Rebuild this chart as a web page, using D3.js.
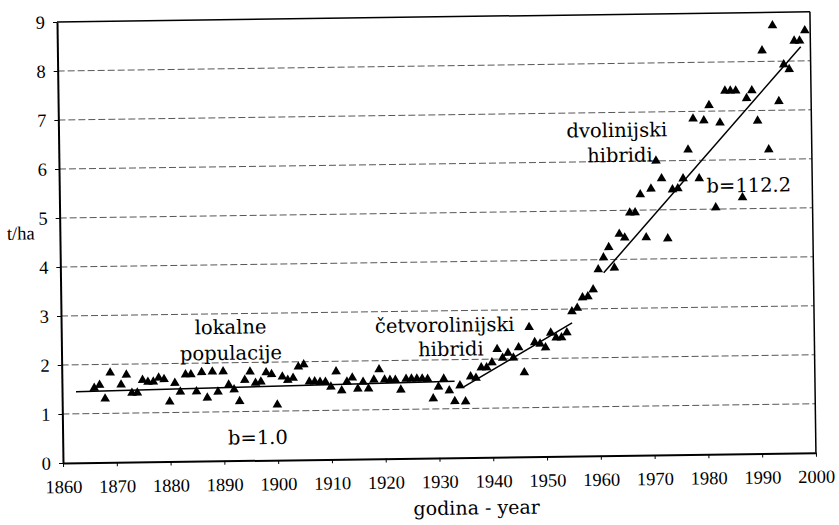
<!DOCTYPE html>
<html>
<head>
  <meta charset="utf-8">
  <title>Prinos kukuruza</title>
  <script src="https://d3js.org/d3.v7.min.js"></script>
  <style>
    body { margin: 0; background: #fff; }
    .lbl { font-family: "DejaVu Serif", serif; font-size: 19.5px; fill: #000; }
    .grid { stroke: #444; stroke-width: 0.9; stroke-dasharray: 7,3; }
    .trend { fill: none; stroke: #000; stroke-width: 1.5px; }
  </style>
</head>
<body>
  <svg id="chart" width="839" height="525"></svg>

  <script>
    // Data (godina, t/ha)
    var years = [
      1866, 1867, 1868, 1869, 1871, 1872, 1873, 1874, 1875, 1876, 1877, 1878, 1879,
      1880, 1881, 1882, 1883, 1884, 1885, 1886, 1887, 1888, 1889,
      1890, 1891, 1892, 1893, 1894, 1895, 1896, 1897, 1898, 1899,
      1900, 1901, 1902, 1903, 1904, 1905, 1906, 1907, 1908, 1909,
      1910, 1911, 1912, 1913, 1914, 1915, 1916, 1917, 1918, 1919,
      1920, 1921, 1922, 1923, 1924, 1925, 1926, 1927, 1928, 1929,
      1930, 1931, 1932, 1933, 1934, 1935, 1936, 1937, 1938, 1939,
      1940, 1941, 1942, 1943, 1944, 1945, 1946, 1947, 1948, 1949,
      1950, 1951, 1952, 1953, 1954, 1955, 1956, 1957, 1958, 1959,
      1960, 1961, 1962, 1963, 1964, 1965, 1966, 1967, 1968, 1969,
      1970, 1971, 1972, 1973, 1974, 1975, 1976, 1977, 1978, 1979,
      1980, 1981, 1982, 1983, 1984, 1985, 1986, 1987, 1988, 1989,
      1990, 1991, 1992, 1993, 1994, 1995, 1996, 1997, 1998, 1999
    ];
    var yields = [
      1.52, 1.58, 1.30, 1.83, 1.58, 1.78, 1.41, 1.41, 1.67, 1.63, 1.63, 1.71, 1.68,
      1.22, 1.60, 1.42, 1.77, 1.77, 1.42, 1.81, 1.29, 1.82, 1.41,
      1.82, 1.55, 1.45, 1.21, 1.64, 1.81, 1.58, 1.60, 1.79, 1.75,
      1.13, 1.70, 1.63, 1.67, 1.90, 1.94, 1.59, 1.59, 1.58, 1.58,
      1.48, 1.79, 1.40, 1.58, 1.66, 1.43, 1.57, 1.43, 1.61, 1.82,
      1.61, 1.60, 1.60, 1.40, 1.62, 1.62, 1.62, 1.62, 1.61, 1.21,
      1.45, 1.61, 1.37, 1.15, 1.47, 1.14, 1.65, 1.62, 1.83, 1.83,
      1.93, 2.20, 2.02, 2.12, 2.02, 2.23, 1.72, 2.64, 2.33, 2.30,
      2.22, 2.52, 2.42, 2.42, 2.52, 2.95, 3.02, 3.23, 3.25, 3.39,
      3.80, 4.04, 4.25, 3.83, 4.52, 4.44, 4.95, 4.95, 5.32, 4.44,
      5.43, 6.00, 5.64, 4.41, 5.41, 5.43, 5.63, 6.22, 6.85, 5.63,
      6.81, 7.12, 5.03, 6.76, 7.41, 7.41, 7.41, 5.23, 7.25, 7.41,
      6.79, 8.22, 6.20, 8.73, 7.18, 7.93, 7.83, 8.41, 8.41, 8.62
    ];

    // trend lines: lokalne populacije, četvorolinijski, dvolinijski hibridi
    var trendStartYear = [1862.6, 1934.7, 1961.0];
    var trendStartValue = [1.45, 1.44, 3.73];
    var trendEndYear = [1933.0, 1955.0, 1998.2];
    var trendEndValue = [1.56, 2.72, 8.29];

    var xTicks = d3.range(1860, 2001, 10);
    var yTicks = d3.range(0, 10, 1);

    var margin = { top: 22, right: 23, bottom: 62, left: 63 };
    var width = 839 - margin.left - margin.right;
    var height = 525 - margin.top - margin.bottom;

    // the printed figure sits slightly askew on the page
    var svg = d3.select("#chart");
    var page = svg.append("g")
      .attr("transform", "rotate(-0.78," + margin.left + "," + (margin.top + height) + ")");
    var g = page.append("g")
      .attr("transform", "translate(" + margin.left + "," + margin.top + ")");

    var xScale = d3.scaleLinear().domain([1860, 2000]).range([0, width]);
    var yScale = d3.scaleLinear().domain([0, 9]).range([height, 0]);

    // gridlines
    g.selectAll(".grid")
      .data(yTicks.filter(function(d) { return d > 0 && d < 9; }))
      .enter().append("line")
      .attr("class", "grid")
      .attr("x1", 0).attr("x2", width)
      .attr("y1", function(d) { return yScale(d); })
      .attr("y2", function(d) { return yScale(d); });

    // top and right border
    g.append("line").attr("x1", 0).attr("x2", width).attr("y1", 0).attr("y2", 0)
      .attr("stroke", "#000").attr("stroke-width", 1.5);
    g.append("line").attr("x1", width).attr("x2", width).attr("y1", 0).attr("y2", height)
      .attr("stroke", "#000").attr("stroke-width", 1.5);

    var xAxis = d3.axisBottom(xScale).tickValues(xTicks).tickFormat(d3.format("d"))
      .tickSize(4).tickSizeOuter(0).tickPadding(13);
    var yAxis = d3.axisLeft(yScale).tickValues(yTicks).tickFormat(d3.format("d"))
      .tickSize(4).tickSizeOuter(0).tickPadding(8);

    g.append("g").attr("class", "x-axis")
      .attr("transform", "translate(0," + height + ")")
      .call(xAxis);
    g.append("g").attr("class", "y-axis")
      .call(yAxis);

    g.selectAll(".domain").attr("stroke-width", 2);
    g.selectAll(".tick text")
      .attr("fill", "#000")
      .style("font-family", "'Liberation Serif', serif")
      .style("font-size", "18.5px");

    // trend lines
    var line = d3.line()
      .x(function(d) { return xScale(d[0]); })
      .y(function(d) { return yScale(d[1]); });

    trendStartYear.forEach(function(y0, i) {
      g.append("path")
        .datum([[y0, trendStartValue[i]], [trendEndYear[i], trendEndValue[i]]])
        .attr("class", "trend")
        .attr("d", line);
    });

    // points
    g.selectAll(".pt")
      .data(years)
      .enter().append("path")
      .attr("class", "pt")
      .attr("d", d3.symbol().type(d3.symbolTriangle).size(40))
      .attr("transform", function(d, i) {
        return "translate(" + xScale(d) + "," + yScale(yields[i]) + ")";
      })
      .attr("fill", "#000");

    // annotations
    var notes = [
      { t: "lokalne", x: 1891.5, y: 2.59 },
      { t: "populacije", x: 1891.5, y: 2.06 },
      { t: "b=1.0", x: 1896.3, y: 0.33 },
      { t: "četvorolinijski", x: 1931.3, y: 2.57 },
      { t: "hibridi", x: 1932.4, y: 2.08 },
      { t: "dvolinijski", x: 1963.8, y: 6.50 },
      { t: "hibridi", x: 1964.3, y: 5.99 },
      { t: "b=112.2", x: 1988.2, y: 5.34 }
    ];
    g.selectAll(".lbl")
      .data(notes)
      .enter().append("text")
      .attr("class", "lbl")
      .attr("text-anchor", "middle")
      .attr("x", function(d) { return xScale(d.x); })
      .attr("y", function(d) { return yScale(d.y); })
      .text(function(d) { return d.t; });

    // axis titles
    page.append("text")
      .attr("x", 10).attr("y", 239)
      .style("font-family", "'Liberation Serif', serif")
      .style("font-size", "18.5px")
      .text("t/ha");

    page.append("text")
      .attr("x", 476).attr("y", 520)
      .attr("text-anchor", "middle")
      .style("font-family", "'DejaVu Serif', serif")
      .style("font-size", "19px")
      .text("godina - year");
  </script>
</body>
</html>
